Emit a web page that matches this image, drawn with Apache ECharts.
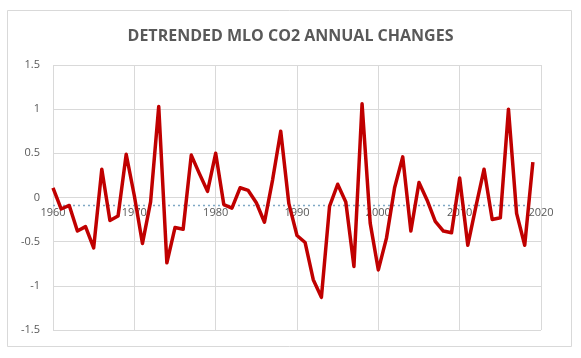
<!DOCTYPE html>
<html>
<head>
<meta charset="utf-8">
<script src="https://cdn.jsdelivr.net/npm/echarts@6/dist/echarts.min.js"></script>
<style>
html,body{margin:0;padding:0;background:#fff;}
#chart{width:581px;height:358px;}
</style>
</head>
<body>
<div id="chart"></div>
<script>
const titleText = 'DETRENDED MLO CO2 ANNUAL CHANGES';
const years = [1960,1961,1962,1963,1964,1965,1966,1967,1968,1969,
  1970,1971,1972,1973,1974,1975,1976,1977,1978,1979,
  1980,1981,1982,1983,1984,1985,1986,1987,1988,1989,
  1990,1991,1992,1993,1994,1995,1996,1997,1998,1999,
  2000,2001,2002,2003,2004,2005,2006,2007,2008,2009,
  2010,2011,2012,2013,2014,2015,2016,2017,2018,2019];
const changes = [0.11,-0.13,-0.09,-0.38,-0.33,-0.57,0.32,-0.26,-0.21,0.49,
  0.02,-0.52,-0.05,1.03,-0.74,-0.34,-0.36,0.48,0.27,0.07,
  0.50,-0.08,-0.12,0.11,0.08,-0.06,-0.28,0.20,0.75,-0.07,
  -0.43,-0.51,-0.93,-1.13,-0.10,0.15,-0.05,-0.78,1.06,-0.29,
  -0.82,-0.46,0.11,0.46,-0.38,0.17,-0.03,-0.27,-0.38,-0.40,
  0.22,-0.54,-0.10,0.32,-0.25,-0.23,1.00,-0.18,-0.54,0.40];
const meanYears = [1960, 2019];
const meanValues = [-0.09, -0.09];

const lineData = years.map((y, i) => [y, changes[i]]);
const meanData = meanYears.map((y, i) => [y, meanValues[i]]);

const gridTop = 65, gridBottom = 28, chartH = 358;
const yMin = -1.5, yMax = 1.5;
const plotH = chartH - gridTop - gridBottom;
const zeroOffset = -plotH * (0 - yMin) / (yMax - yMin);

const chart = echarts.init(document.getElementById('chart'), null, {renderer: 'canvas'});
chart.setOption({
  animation: false,
  backgroundColor: '#ffffff',
  title: {
    text: titleText,
    left: 'center',
    top: 23,
    textStyle: {fontFamily: 'Open Sans', fontSize: 16, fontWeight: 'bold', color: '#595959'}
  },
  graphic: [{
    type: 'rect',
    shape: {x: 7.5, y: 10.5, width: 564, height: 336},
    style: {fill: 'none', stroke: '#d9d9d9', lineWidth: 1},
    silent: true
  }],
  grid: {left: 53, right: 40, top: gridTop, bottom: gridBottom},
  xAxis: {
    type: 'value',
    min: 1960, max: 2020, interval: 10,
    offset: zeroOffset,
    axisLine: {show: true, onZero: false, lineStyle: {color: '#d9d9d9', width: 1}},
    axisTick: {show: false},
    axisLabel: {color: '#595959', fontSize: 11, fontFamily: 'Open Sans', margin: 10, formatter: v => String(v)},
    splitLine: {show: true, lineStyle: {color: '#d9d9d9', width: 1}}
  },
  yAxis: {
    type: 'value',
    min: yMin, max: yMax, interval: 0.5,
    axisLine: {show: false},
    axisTick: {show: false},
    axisLabel: {color: '#595959', fontSize: 11, fontFamily: 'Open Sans', margin: 13},
    splitLine: {show: true, lineStyle: {color: '#d9d9d9', width: 1}}
  },
  series: [
    {
      type: 'line',
      data: meanData,
      symbol: 'none',
      lineStyle: {color: '#7fa8c4', width: 1.5, type: [2, 3]},
      z: 1
    },
    {
      type: 'line',
      data: lineData,
      symbol: 'none',
      lineStyle: {color: '#c00000', width: 3.5, join: 'round'},
      z: 3
    }
  ]
});
</script>
</body>
</html>
